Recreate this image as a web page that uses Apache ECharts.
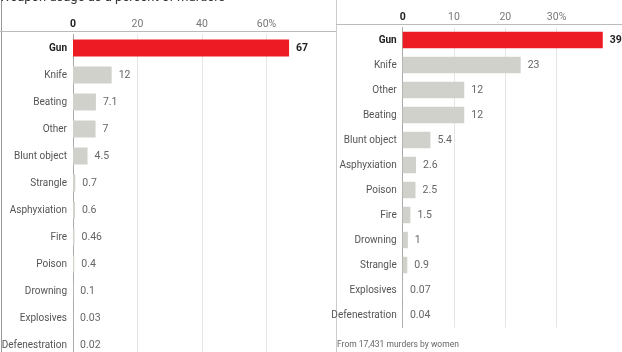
<!DOCTYPE html>
<html>
<head>
<meta charset="utf-8">
<script src="https://cdn.jsdelivr.net/npm/echarts@6/dist/echarts.min.js"></script>
<style>
  html, body { margin: 0; padding: 0; background: #fff; }
  #chart { width: 622px; height: 352px; }
</style>
</head>
<body>
<div id="chart"></div>
<script>
// all murders
var allCats = ['Gun', 'Knife', 'Beating', 'Other', 'Blunt object', 'Strangle', 'Asphyxiation', 'Fire', 'Poison', 'Drowning', 'Explosives', 'Defenestration'];
var allVals = [67, 12, 7.1, 7, 4.5, 0.7, 0.6, 0.46, 0.4, 0.1, 0.03, 0.02];
// murders by women
var womenCats = ['Gun', 'Knife', 'Other', 'Beating', 'Blunt object', 'Asphyxiation', 'Poison', 'Fire', 'Drowning', 'Strangle', 'Explosives', 'Defenestration'];
var womenVals = [39, 23, 12, 12, 5.4, 2.6, 2.5, 1.5, 1, 0.9, 0.07, 0.04];

var RED = '#ed1c24', GREY = '#d1d1cc';
var FONT = 'Roboto';

function barData(vals) {
    // 第一项(Gun)用红色高亮
    return vals.map(function (v, i) {
        return {
            value: v,
            itemStyle: { color: i === 0 ? RED : GREY },
            label: i === 0 ? { fontWeight: 'bold', color: '#222' } : {}
        };
    });
}

function catLabel(v) {
    return v === 'Gun' ? '{b|' + v + '}' : v;
}

function valueLabel(v) {
    if (v === 0) return '{b|0}';
    return v + (v === 60 || v === 30 ? '%' : '');
}

function rich(size) {
    return { b: { fontWeight: 'bold', color: '#222', fontSize: size, fontFamily: FONT } };
}

var chart = echarts.init(document.getElementById('chart'));
chart.setOption({
    animation: false,
    textStyle: { fontFamily: FONT },
    grid: [
        { left: 73, top: 34.5, width: 258, height: 324, outerBoundsMode: 'none', containLabel: false },
        { left: 402.7, top: 27.5, width: 205.2, height: 300, outerBoundsMode: 'none', containLabel: false }
    ],
    xAxis: [0, 1].map(function (i) {
        return {
            gridIndex: i,
            type: 'value',
            position: 'top',
            min: 0,
            max: i === 0 ? 80 : 40,
            interval: i === 0 ? 20 : 10,
            axisLine: { show: false },
            axisTick: { show: false },
            splitLine: { show: true, showMinLine: false, showMaxLine: false, lineStyle: { color: '#e4e4e4' } },
            axisLabel: {
                margin: 5, fontSize: 10.5, color: '#777', fontFamily: FONT,
                showMaxLabel: false,
                formatter: valueLabel,
                rich: rich(10.5)
            }
        };
    }),
    yAxis: [0, 1].map(function (i) {
        return {
            gridIndex: i,
            type: 'category',
            inverse: true,
            data: i === 0 ? allCats : womenCats,
            axisLine: { show: true, lineStyle: { color: '#aaa' } },
            axisTick: { show: false },
            axisLabel: {
                margin: 6, fontSize: 10, color: '#555', fontFamily: FONT,
                formatter: catLabel,
                rich: rich(10)
            }
        };
    }),
    series: [
        {
            type: 'bar', xAxisIndex: 0, yAxisIndex: 0,
            data: barData(allVals),
            barWidth: 17,
            label: { show: true, position: 'right', distance: 7, fontSize: 10.5, color: '#666', fontFamily: FONT }
        },
        {
            type: 'bar', xAxisIndex: 1, yAxisIndex: 1,
            data: barData(womenVals),
            barWidth: 16.5,
            label: { show: true, position: 'right', distance: 7, fontSize: 10.5, color: '#666', fontFamily: FONT }
        }
    ],
    graphic: [
        // 面板分隔线
        { type: 'line', shape: { x1: 1.5, y1: 0, x2: 1.5, y2: 352 }, style: { stroke: '#999', lineWidth: 1 } },
        { type: 'line', shape: { x1: 336.5, y1: 0, x2: 336.5, y2: 352 }, style: { stroke: '#ccc', lineWidth: 1 } },
        { type: 'line', shape: { x1: 0, y1: 31.5, x2: 336, y2: 31.5 }, style: { stroke: '#bbb', lineWidth: 1 } },
        { type: 'line', shape: { x1: 336, y1: 24.5, x2: 622, y2: 24.5 }, style: { stroke: '#bbb', lineWidth: 1 } },
        { type: 'text', x: -1, y: -9, style: { text: 'Weapon usage as a percent of murders', font: '13px ' + FONT, fill: '#333' } },
        { type: 'text', x: 337, y: 340, style: { text: 'From 17,431 murders by women', font: '8.5px ' + FONT, fill: '#666' } }
    ]
});
</script>
</body>
</html>
